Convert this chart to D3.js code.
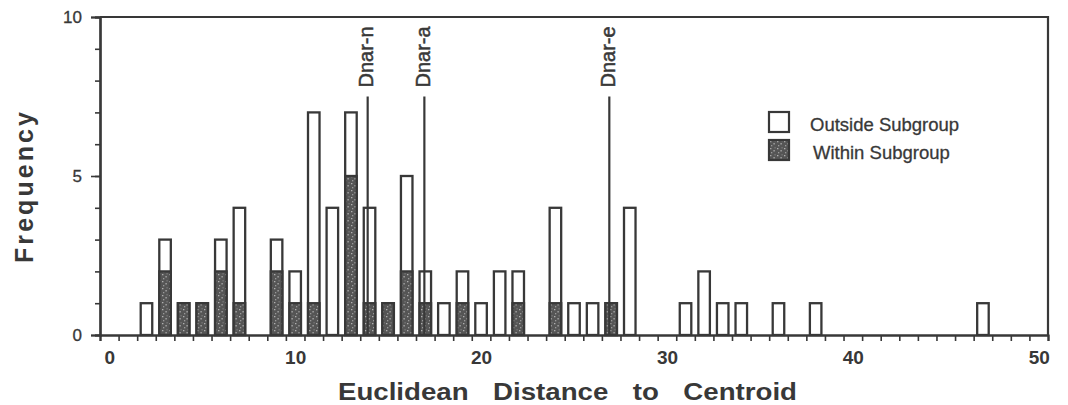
<!DOCTYPE html>
<html>
<head>
<meta charset="utf-8">
<script src="https://cdn.jsdelivr.net/npm/d3@7"></script>
<style>
  body { margin: 0; background: #fff; }
  text { font-family: 'Liberation Sans', Arial, Helvetica, sans-serif; fill: #383838; }
</style>
</head>
<body>
<svg id="chart" width="1068" height="405"></svg>
<script>
// histogram bins (distance) and counts
const bins = [2, 3, 4, 5, 6, 7, 9, 10, 11, 12, 13, 14, 15, 16, 17, 18, 19, 20, 21, 22, 24, 25, 26, 27, 28, 31, 32, 33, 34, 36, 38, 47]
const totalCounts = [1, 3, 1, 1, 3, 4, 3, 2, 7, 4, 7, 4, 1, 5, 2, 1, 2, 1, 2, 2, 4, 1, 1, 1, 4, 1, 2, 1, 1, 1, 1, 1]
const withinCounts = [0, 2, 1, 1, 2, 1, 2, 1, 1, 0, 5, 1, 1, 2, 1, 0, 1, 0, 0, 1, 1, 0, 0, 1, 0, 0, 0, 0, 0, 0, 0, 0]

// marked taxa
const markerNames = ['Dnar-n', 'Dnar-a', 'Dnar-e']
const markerValues = [13.9, 16.95, 26.9]
const markerHeight = 7.5

const xTickLabels = [0, 10, 20, 30, 40, 50]
const yTickLabels = [0, 5, 10]
const legendLabels = ['Outside Subgroup', 'Within Subgroup']

const ink = '#383838'
const plotLeft = 100, plotRight = 1048, plotTop = 17, plotBottom = 335

const svg = d3.select('#chart')

// stipple texture for the within part
const defs = svg.append('defs')
const pat = defs.append('pattern')
	.attr('id', 'stipple')
	.attr('patternUnits', 'userSpaceOnUse')
	.attr('width', 7)
	.attr('height', 7)
pat.append('rect').attr('width', 7).attr('height', 7).attr('fill', '#555')
pat.append('path')
	.attr('d', 'M1,1h1.4v1.2h-1.4z M4.5,3h1.2v1.4h-1.2z M2,5.2h1.3v1h-1.3z M5.6,0.4h0.9v0.9h-0.9z')
	.attr('fill', '#b0b0b0')

const rows = bins.map((b, i) => ({ bin: b, total: totalCounts[i], within: withinCounts[i] }))

const xLin = d3.scaleLinear().domain([-0.5, 50.5]).range([plotLeft, plotRight])
const xBand = d3.scaleBand()
	.domain(d3.range(0, 51))
	.range([plotLeft, plotRight])
	.paddingInner(0.38)
	.paddingOuter(0.19)
const y = d3.scaleLinear().domain([0, 10]).range([plotBottom, plotTop])

// frame
svg.append('path')
	.attr('d', `M${plotLeft},${plotTop}H${plotRight}V${plotBottom}`)
	.attr('fill', 'none')
	.attr('stroke', ink)
	.attr('stroke-width', 2.2)

// bars
const bars = svg.append('g').selectAll('g.bar')
	.data(rows)
	.enter().append('g')
		.attr('class', 'bar')

bars.append('rect')
	.attr('x', (d) => xBand(d.bin))
	.attr('y', (d) => y(d.total))
	.attr('width', xBand.bandwidth())
	.attr('height', (d) => y(0) - y(d.total))
	.attr('fill', '#fff')
	.attr('stroke', ink)
	.attr('stroke-width', 2.3)

bars.filter((d) => d.within > 0).append('rect')
	.attr('x', (d) => xBand(d.bin))
	.attr('y', (d) => y(d.within))
	.attr('width', xBand.bandwidth())
	.attr('height', (d) => y(0) - y(d.within))
	.attr('fill', 'url(#stipple)')
	.attr('stroke', ink)
	.attr('stroke-width', 2.3)

// marker lines
const markers = svg.append('g').selectAll('g.marker')
	.data(markerNames.map((n, i) => ({ name: n, value: markerValues[i] })))
	.enter().append('g')
		.attr('class', 'marker')

markers.append('line')
	.attr('x1', (d) => xLin(d.value))
	.attr('x2', (d) => xLin(d.value))
	.attr('y1', y(0))
	.attr('y2', y(markerHeight))
	.attr('stroke', ink)
	.attr('stroke-width', 2.2)

markers.append('text')
	.attr('transform', (d) => `translate(${xLin(d.value) + 5.5},${y(markerHeight) - 9}) rotate(-90)`)
	.attr('font-size', 20)
	.attr('stroke', ink)
	.attr('stroke-width', 0.5)
	.text((d) => d.name)

// x axis: ticks at bin edges, labels at bin centres
const xEdges = svg.append('g')
	.attr('transform', `translate(0,${plotBottom})`)
	.call(d3.axisBottom(xLin).tickValues(d3.range(-0.5, 51, 1)).tickSize(6).tickFormat(''))
const xLabels = svg.append('g')
	.attr('transform', `translate(0,${plotBottom})`)
	.call(d3.axisBottom(xLin).tickValues(xTickLabels).tickSize(0).tickPadding(16))

// y axis: minor and major ticks
const yMinor = svg.append('g')
	.attr('transform', `translate(${plotLeft},0)`)
	.call(d3.axisLeft(y).tickValues(d3.range(0, 11)).tickSize(5).tickFormat(''))
const yMajor = svg.append('g')
	.attr('transform', `translate(${plotLeft},0)`)
	.call(d3.axisLeft(y).tickValues(yTickLabels).tickSize(9).tickPadding(9))

for (const g of [xEdges, xLabels, yMinor, yMajor]) {
	g.select('.domain').attr('stroke', ink).attr('stroke-width', 2.2)
	g.selectAll('.tick line').attr('stroke', ink).attr('stroke-width', 1.6)
}
xLabels.selectAll('.tick text')
	.attr('font-size', 19)
	.attr('font-weight', 'bold')
	.attr('fill', ink)
	.attr('font-family', null)
yMajor.selectAll('.tick text')
	.attr('font-size', 17)
	.attr('fill', ink)
	.attr('stroke', ink)
	.attr('stroke-width', 0.3)
	.attr('font-family', null)

// axis titles
svg.append('text')
	.attr('x', 567.5)
	.attr('y', 400)
	.attr('text-anchor', 'middle')
	.attr('font-size', 23)
	.attr('font-weight', 'bold')
	.attr('word-spacing', 14)
	.attr('textLength', 459)
	.attr('lengthAdjust', 'spacingAndGlyphs')
	.attr('fill', '#454545')
	.text('Euclidean Distance to Centroid')

svg.append('text')
	.attr('transform', 'translate(33,187.5) rotate(-90)')
	.attr('text-anchor', 'middle')
	.attr('font-size', 25)
	.attr('font-weight', 'bold')
	.attr('textLength', 151)
	.attr('fill', '#454545')
	.text('Frequency')

// legend
const legend = svg.append('g').attr('transform', 'translate(769,112)')
const items = legend.selectAll('g')
	.data(legendLabels)
	.enter().append('g')
		.attr('transform', (d, i) => `translate(0,${i * 28})`)

items.append('rect')
	.attr('width', 20)
	.attr('height', 20)
	.attr('fill', (d, i) => i === 0 ? '#fff' : 'url(#stipple)')
	.attr('stroke', ink)
	.attr('stroke-width', 2.2)

items.append('text')
	.attr('x', (d, i) => i === 0 ? 41 : 44)
	.attr('y', 19)
	.attr('font-size', 18.5)
	.attr('stroke', ink)
	.attr('stroke-width', 0.3)
	.text((d) => d)
</script>
</body>
</html>
